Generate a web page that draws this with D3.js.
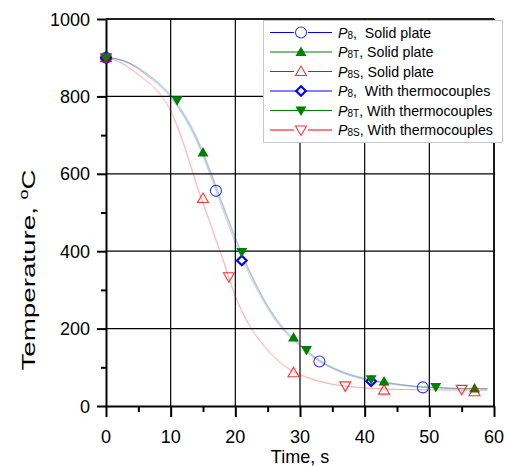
<!DOCTYPE html>
<html><head><meta charset="utf-8">
<script src="https://cdn.jsdelivr.net/npm/d3@7"></script>
<style>
body{margin:0;background:#fff}
text{font-family:"Liberation Sans",Arial,sans-serif;fill:#000}
</style>
</head><body>
<svg id="chart" width="510" height="467"></svg>
<script>
// ---- data ----
const xTicks = [0, 10, 20, 30, 40, 50, 60];
const yTicks = [0, 200, 400, 600, 800, 1000];

// measured points (time s, temperature °C)
const p8SolidTime = [0, 17, 33, 49];
const p8SolidTemp = [900, 556, 115, 48];
const p8tSolidTime = [0, 15, 29, 43, 57];
const p8tSolidTemp = [900, 655, 177, 63, 45];
const p8sSolidTime = [0, 15, 29, 43, 57];
const p8sSolidTemp = [900, 536, 86, 41, 37];
const p8ThermoTime = [0, 21, 41];
const p8ThermoTemp = [900, 376, 64];
const p8tThermoTime = [0, 11, 21, 31, 41, 51];
const p8tThermoTemp = [900, 790, 398, 145, 69, 49];
const p8sThermoTime = [0, 19, 37, 55];
const p8sThermoTemp = [900, 334, 52, 43];

// cooling curves sampled on a common time grid
const curveTime = [0,2,4,6,8,10,12,14,16,18,20,22,24,26,28,30,32,34,36,38,40,44,48,52,56,59];
const p8SolidCurve   = [900,895,882,860,834,800,752,690,608,518,430,352,285,230,188,157,128,107,91,79,70,58,50,47,45,45];
const p8tSolidCurve  = [900,896,884,863,838,805,758,697,615,525,438,358,290,234,192,160,131,109,93,81,72,60,51,47,45,45];
const p8sSolidCurve  = [900,890,870,845,815,765,680,575,480,385,285,215,165,128,100,82,70,60,54,50,47,44,42,42,41,41];
const p8ThermoCurve  = [900,895,881,858,831,797,748,685,602,510,421,345,280,226,185,154,126,105,89,77,68,57,49,46,44,44];
const p8tThermoCurve = [900,896,883,862,836,803,755,693,612,522,434,355,288,232,190,158,130,108,92,80,71,59,51,47,45,45];
const p8sThermoCurve = [900,889,868,842,811,760,675,570,475,380,282,212,163,126,98,80,68,59,53,49,46,43,42,41,41,41];

const series = [
  {sub: "8",  rest: "  Solid plate",        color: "#0000ff", marker: "circle",  time: p8SolidTime,   temp: p8SolidTemp,   curve: p8SolidCurve},
  {sub: "8T", rest: " Solid plate",         color: "#007f00", marker: "triUp",   time: p8tSolidTime,  temp: p8tSolidTemp,  curve: p8tSolidCurve},
  {sub: "8S", rest: " Solid plate",         color: "#ff0000", marker: "triUpO",  time: p8sSolidTime,  temp: p8sSolidTemp,  curve: p8sSolidCurve},
  {sub: "8",  rest: "  With thermocouples", color: "#0000ff", marker: "diamond", time: p8ThermoTime,  temp: p8ThermoTemp,  curve: p8ThermoCurve},
  {sub: "8T", rest: " With thermocouples",  color: "#007f00", marker: "triDown", time: p8tThermoTime, temp: p8tThermoTemp, curve: p8tThermoCurve},
  {sub: "8S", rest: " With thermocouples",  color: "#ff0000", marker: "triDownO",time: p8sThermoTime, temp: p8sThermoTemp, curve: p8sThermoCurve}
];

// ---- layout ----
const svg = d3.select("#chart");
const x = d3.scaleLinear().domain([0, 60]).range([106, 494]);
const y = d3.scaleLinear().domain([0, 1000]).range([406, 19]);

// grid
const grid = svg.append("g").attr("stroke", "#000").attr("stroke-width", 1.2);
grid.selectAll(".gx").data(xTicks.slice(1)).join("line")
  .attr("x1", d => x(d)).attr("x2", d => x(d)).attr("y1", y(0)).attr("y2", y(1000));
grid.selectAll(".gy").data(yTicks.slice(1)).join("line")
  .attr("x1", x(0)).attr("x2", x(60)).attr("y1", d => y(d)).attr("y2", d => y(d));

// axes
const xAxis = d3.axisBottom(x).tickValues(d3.range(0, 61, 5)).tickSize(0).tickFormat("");
const gx = svg.append("g").attr("transform", `translate(0,${y(0)})`).call(xAxis);
gx.select(".domain").attr("stroke-width", 2);
gx.selectAll(".tick line").attr("y2", d => d % 10 === 0 ? 11 : 6).attr("stroke-width", 2);
svg.append("g").selectAll("text").data(xTicks).join("text")
  .attr("x", d => x(d)).attr("y", 443).attr("text-anchor", "middle")
  .attr("font-size", 18).text(d => d);

const yAxis = d3.axisLeft(y).tickValues(d3.range(0, 1001, 100)).tickSize(0).tickFormat("");
const gy = svg.append("g").attr("transform", `translate(${x(0)},0)`).call(yAxis);
gy.select(".domain").attr("stroke-width", 2);
gy.selectAll(".tick line").attr("x2", d => d % 200 === 0 ? -9 : -5).attr("stroke-width", 2);
svg.append("g").selectAll("text").data(yTicks).join("text")
  .attr("x", 90).attr("y", d => y(d) + 6.5).attr("text-anchor", "end")
  .attr("font-size", 18).text(d => d);

svg.append("text").attr("x", 300).attr("y", 463).attr("text-anchor", "middle")
  .attr("font-size", 18).text("Time, s");
// y title is drawn stretched along its length
const yl = svg.append("text").attr("transform", "translate(35,270) rotate(-90) scale(1.5,1)")
  .attr("text-anchor", "middle").attr("font-size", 18.5);
yl.append("tspan").text("Temperature, ");
yl.append("tspan").attr("font-size", 12).attr("dy", -7).text("o");
yl.append("tspan").attr("dy", 7).text("C");

// top and right frame
svg.append("line").attr("x1", x(0)).attr("x2", x(60)).attr("y1", y(1000)).attr("y2", y(1000))
  .attr("stroke", "#000").attr("stroke-width", 1.5);
svg.append("line").attr("x1", x(60)).attr("x2", x(60)).attr("y1", y(1000)).attr("y2", y(0))
  .attr("stroke", "#000").attr("stroke-width", 1.5);

// curves
const line = d3.line().x((d, i) => x(curveTime[i])).y(d => y(d)).curve(d3.curveMonotoneX);
svg.append("g").selectAll("path").data(series).join("path")
  .attr("d", s => line(s.curve)).attr("fill", "none")
  .attr("stroke", s => s.color).attr("stroke-opacity", 0.2).attr("stroke-width", 1);

// marker shapes
function drawMarker(g, type, color) {
  switch (type) {
    case "circle":
      g.append("circle").attr("r", 5.5).attr("fill", "none").attr("stroke", color).attr("stroke-width", 1.1).attr("stroke-opacity", 0.8);
      break;
    case "triUp":
      g.append("path").attr("d", "M0,-5.5L5.5,4L-5.5,4Z").attr("fill", color);
      break;
    case "triUpO":
      g.append("path").attr("d", "M0,-5.5L5.5,4L-5.5,4Z").attr("fill", "none").attr("stroke", color).attr("stroke-width", 1.1).attr("stroke-opacity", 0.8);
      break;
    case "diamond":
      g.append("path").attr("d", "M0,-4.8L4.8,0L0,4.8L-4.8,0Z").attr("fill", "#fff").attr("stroke", color).attr("stroke-width", 2.2);
      break;
    case "triDown":
      g.append("path").attr("d", "M0,5.5L5.5,-4L-5.5,-4Z").attr("fill", color);
      break;
    case "triDownO":
      g.append("path").attr("d", "M0,5.5L5.5,-4L-5.5,-4Z").attr("fill", "none").attr("stroke", color).attr("stroke-width", 1.1).attr("stroke-opacity", 0.8);
      break;
  }
}

// points
series.forEach(s => {
  s.time.forEach((t, i) => {
    const g = svg.append("g").attr("transform", `translate(${x(t)},${y(s.temp[i])})`);
    drawMarker(g, s.marker, s.color);
  });
});

// legend
const lg = svg.append("g");
lg.append("rect").attr("x", 263.5).attr("y", 20.5).attr("width", 239).attr("height", 122)
  .attr("fill", "#fff").attr("stroke", "#c8c8c8").attr("stroke-width", 1);
series.forEach((s, i) => {
  const cy = 32.5 + i * 19.5;
  lg.append("line").attr("x1", 270).attr("x2", 332).attr("y1", cy).attr("y2", cy)
    .attr("stroke", s.color).attr("stroke-width", 1);
  const m = lg.append("g").attr("transform", `translate(301,${cy})`);
  if (s.marker.endsWith("O") || s.marker === "circle") {
    m.append("rect").attr("x", -7).attr("y", -6).attr("width", 14).attr("height", 12).attr("fill", "#fff");
  }
  drawMarker(m, s.marker, s.color);
  const t = lg.append("text").attr("x", 338).attr("y", cy + 5).attr("font-size", 14.2)
    .attr("xml:space", "preserve").style("white-space", "pre");
  t.append("tspan").attr("font-style", "italic").text("P");
  t.append("tspan").attr("font-size", 10).attr("dy", 1).text(s.sub);
  t.append("tspan").attr("dy", -1).text("," + s.rest);
});
</script>
</body></html>
